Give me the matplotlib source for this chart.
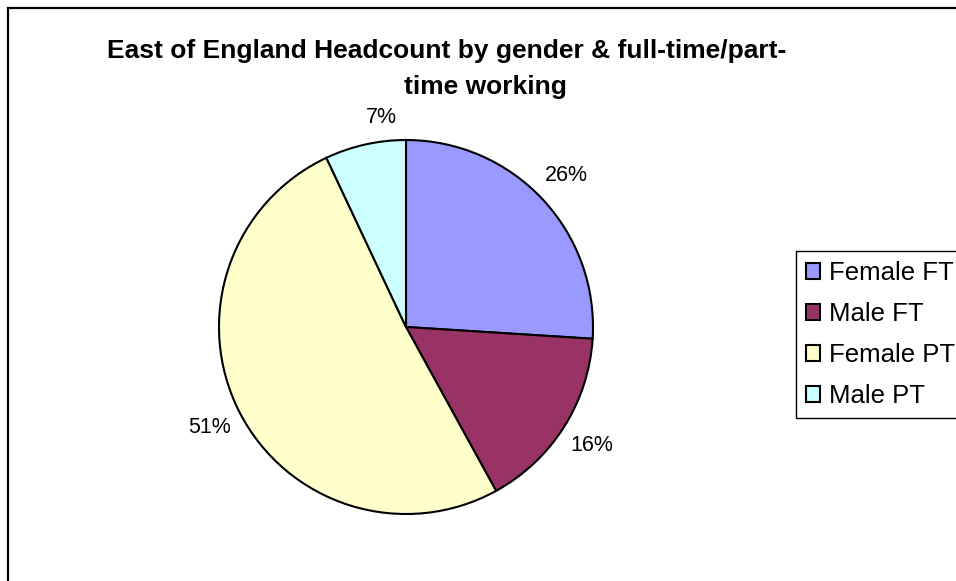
import matplotlib.pyplot as plt
from matplotlib.patches import Rectangle

plt.rcParams['font.family'] = ['Liberation Sans', 'DejaVu Sans']

# data
categories = ['Female FT', 'Male FT', 'Female PT', 'Male PT']
shares = [26, 16, 51, 7]
colors = ['#9999FF', '#993366', '#FFFFCC', '#CCFFFF']
title_lines = ['East of England Headcount by gender & full-time/part-', 'time working']

W, H = 956, 581
fig = plt.figure(figsize=(W / 100, H / 100), dpi=100)

# outer chart frame (right/bottom edges fall outside the image)
fig.patches.append(Rectangle((8 / W, -0.1), 1.2, 1 - 8 / H + 0.1, transform=fig.transFigure,
                             fill=False, edgecolor='black', linewidth=1.6))

# pie axes: centre (406, 327) px, radius 187 px
cx, cy, r = 406, 327, 187
ax = fig.add_axes([(cx - r) / W, (H - cy - r) / H, 2 * r / W, 2 * r / H])
wedges, texts, autotexts = ax.pie(shares, colors=colors, startangle=90, counterclock=False,
                                  autopct='%1.0f%%', pctdistance=1.18,
                                  wedgeprops=dict(edgecolor='black', linewidth=1.5),
                                  textprops=dict(fontsize=15.5, color='black'))
ax.set_xlim(-1, 1)
ax.set_ylim(-1, 1)
ax.set_aspect('equal')
# Excel nudges the small label closer to the top
autotexts[3].set_position((-0.13, 1.12))

# title
fig.text(447 / W, 1 - 58 / H, title_lines[0], ha='center', va='baseline',
         fontsize=19, fontweight='bold')
fig.text(485 / W, 1 - 94 / H, title_lines[1], ha='center', va='baseline',
         fontsize=19, fontweight='bold')

leg = fig.legend(wedges, categories, loc='upper left', bbox_to_anchor=(796 / W, 1 - 251 / H),
                 bbox_transform=fig.transFigure, borderaxespad=0, fontsize=18.5,
                 frameon=True, fancybox=False, edgecolor='black', framealpha=1,
                 handlelength=0.55, handleheight=0.55, handletextpad=0.35,
                 labelspacing=0.66, borderpad=0.4)
leg.get_frame().set_linewidth(1.0)

fig.savefig('out.png', dpi=100)
